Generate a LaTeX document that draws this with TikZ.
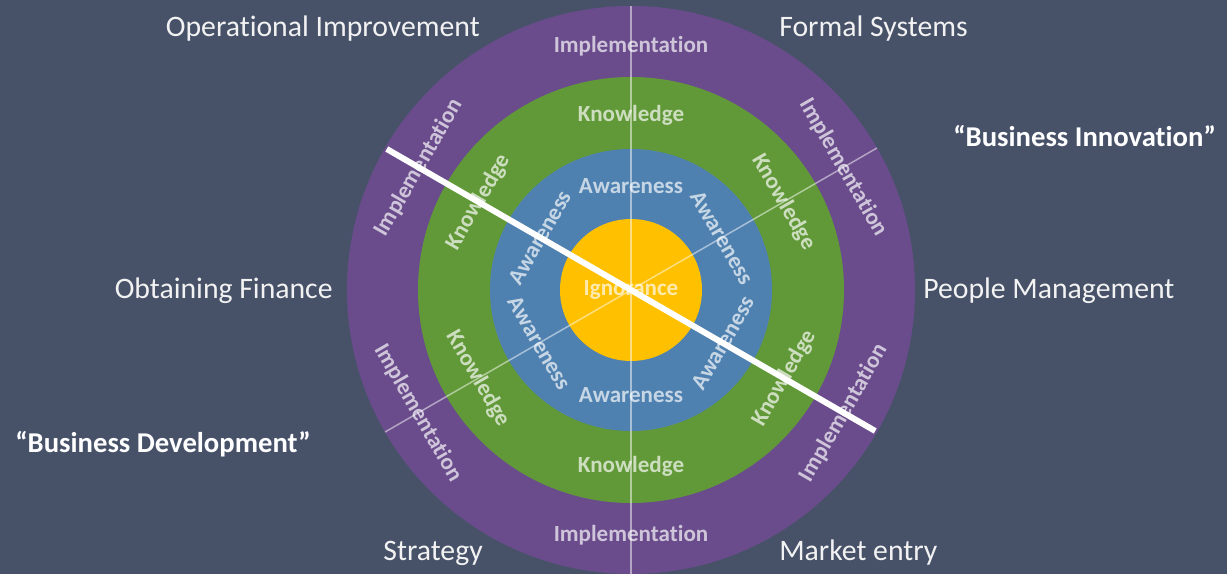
\documentclass[tikz,border=0pt]{standalone}
\usepackage{fontspec}
\setmainfont{Carlito}[Ligatures={TeX,NoCommon}]
\usepackage{tikz}
\definecolor{bg}{RGB}{71,82,105}
\definecolor{implcol}{RGB}{106,76,140}
\definecolor{knowcol}{RGB}{98,153,56}
\definecolor{awarecol}{RGB}{79,129,176}
\definecolor{igncol}{RGB}{255,192,0}
\tikzset{
  ring/.style={font=\fontsize{17.3}{20}\selectfont\bfseries, text=white, text opacity=0.68, inner sep=0pt},
  outer/.style={font=\fontsize{22.3}{26}\selectfont, text=white!95!black, inner sep=0pt},
  slogan/.style={font=\fontsize{21.5}{26}\selectfont\bfseries, text=white, inner sep=0pt},
  divider/.style={white, opacity=0.5, line width=1.1pt},
  split/.style={white, line width=4.5pt}
}

\begin{document}
\begin{tikzpicture}[x=0.75pt,y=0.75pt]
\fill[bg] (-631,-284) rectangle (596,290);
\coordinate (o) at (0,0);
\fill[implcol] (o) circle (284);
\fill[knowcol] (o) circle (213);
\fill[awarecol] (o) circle (141);
\fill[igncol] (o) circle (71);

% ring labels
\foreach \a/\r/\d in {90/0/0,150/60/1,30/-60/1,210/-60/2,330/60/2,270/0/1} {
  \node[ring, rotate=\r] (impl\a) at (\a:244+\d) {Implementation};
  \node[ring, rotate=\r] (know\a) at (\a:175+\d) {Knowledge};
  \node[ring, rotate=\r] (aware\a) at (\a:104+\d) {Awareness};
}
\node[ring] (ign) at (o) {Ignorance};

% dividers
\coordinate (n) at (90:284);
\coordinate (s) at (270:284);
\coordinate (ne) at (30:284);
\coordinate (sw) at (210:284);
\coordinate (nw) at (150:282);
\coordinate (se) at (330:282);
\draw[divider] (n) -- (s);
\draw[divider] (ne) -- (sw);
\draw[split] (nw) -- (se);

% outer labels
\node[outer, anchor=base east] (opimp) at (-151,253) {Operational Improvement};
\node[outer, anchor=base west] (formal) at (148,253) {Formal Systems};
\node[outer, anchor=base east] (finance) at (-298,-8) {Obtaining Finance};
\node[outer, anchor=base west] (people) at (292,-8) {People Management};
\node[outer, anchor=base east] (strategy) at (-148,-270) {Strategy};
\node[outer, anchor=base west] (market) at (148,-270) {Market entry};
\node[slogan, anchor=base west] (innov) at (322,143) {“Business Innovation”};
\node[slogan, anchor=base west] (devel) at (-616,-162) {“Business Development”};
\end{tikzpicture}
\end{document}
